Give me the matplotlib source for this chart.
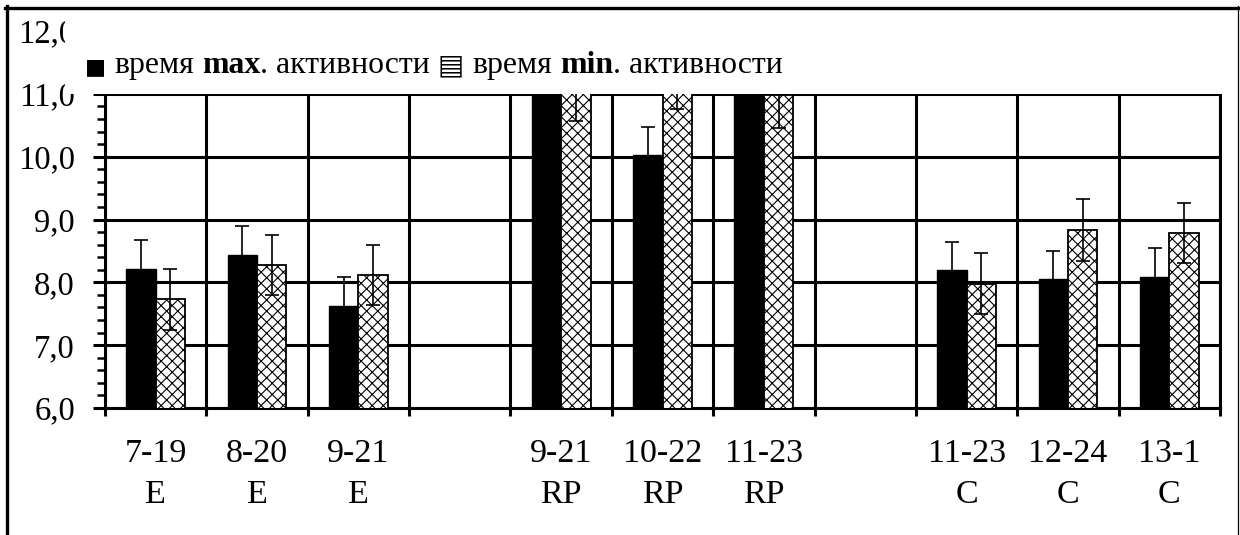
import numpy as np
import matplotlib
matplotlib.use("Agg")
import matplotlib.pyplot as plt
from matplotlib.ticker import FixedLocator, MultipleLocator, FuncFormatter, NullFormatter
from matplotlib.patches import Rectangle
from matplotlib.lines import Line2D

# Данные
labels = ["7-19\nE", "8-20\nE", "9-21\nE", "",
          "9-21\nRP", "10-22\nRP", "11-23\nRP", "",
          "11-23\nC", "12-24\nC", "13-1\nC"]
max_vals = [8.22, 8.44, 7.62, np.nan, 11.30, 10.03, 11.40, np.nan, 8.19, 8.05, 8.08]
max_err = [0.45, 0.46, 0.46, np.nan, 0.45, 0.45, 0.45, np.nan, 0.45, 0.45, 0.46]
min_vals = [7.73, 8.28, 8.12, np.nan, 11.05, 11.24, 10.98, np.nan, 7.98, 8.83, 8.78]
min_err = [0.49, 0.48, 0.48, np.nan, 0.48, 0.48, 0.52, np.nan, 0.48, 0.49, 0.48]

plt.rcParams["font.family"] = ["Liberation Serif", "DejaVu Serif"]
plt.rcParams["hatch.linewidth"] = 0.8

W, H = 1240, 535
fig = plt.figure(figsize=(W / 100, H / 100), dpi=100)
ax = fig.add_axes([105 / W, 1 - 408 / H, (1220 - 105) / W, (408 - 31) / H])

x = np.arange(len(labels)) + 0.5
bw = 0.29

ax.bar(x - bw / 2, max_vals, bw, color="black", edgecolor="black", linewidth=1.0, zorder=3)
ax.bar(x + bw / 2, min_vals, bw, color="white", edgecolor="black", linewidth=1.3,
       hatch="xxx", zorder=3)
ax.errorbar(x - bw / 2, max_vals, yerr=max_err, fmt="none", ecolor="black",
            elinewidth=1.2, capsize=5, capthick=1.2, zorder=4)
ax.errorbar(x + bw / 2, min_vals, yerr=min_err, fmt="none", ecolor="black",
            elinewidth=1.2, capsize=5, capthick=1.2, zorder=4)

ax.set_xlim(0, len(labels))
ax.set_ylim(6, 12)

# оси и сетка
ax.xaxis.set_major_locator(FixedLocator(np.arange(len(labels) + 1)))
ax.xaxis.set_major_formatter(NullFormatter())
ax.xaxis.set_minor_locator(FixedLocator(x))
ax.xaxis.set_minor_formatter(FuncFormatter(lambda v, p: labels[int(v)]))
ax.yaxis.set_major_locator(MultipleLocator(1))
ax.yaxis.set_minor_locator(MultipleLocator(0.2))
ax.yaxis.set_major_formatter(FuncFormatter(lambda v, p: f"{v:.1f}".replace(".", ",")))

ax.tick_params(axis="x", which="major", direction="out", length=6, width=2.2)
ax.tick_params(axis="x", which="minor", length=0, pad=22, labelsize=24.5)
ax.tick_params(axis="y", which="major", direction="out", length=9, width=2.2,
               pad=12.6, labelsize=23.5)
ax.tick_params(axis="y", which="minor", direction="out", length=6, width=1.8)
for t in ax.xaxis.get_minorticklabels():
    t.set_linespacing(1.45)

ax.grid(True, which="major", color="black", linewidth=2.2)
ax.set_axisbelow(True)
for s in ax.spines.values():
    s.set_linewidth(2.2)

# белая подложка легенды поверх верхней части графика
fig.patches.append(Rectangle((65 / W, 1 - 94 / H), (1226 - 65) / W, (94 - 14) / H,
                             transform=fig.transFigure, facecolor="white",
                             edgecolor="none", zorder=5))

# рамка рисунка
fig.add_artist(Line2D([5 / W, 1], [1 - 7.5 / H] * 2, color="black", linewidth=2.4, zorder=6))
fig.add_artist(Line2D([6.5 / W] * 2, [0, 1 - 6 / H], color="black", linewidth=2.4, zorder=6))
fig.add_artist(Line2D([1238 / W] * 2, [0, 1 - 6 / H], color="black", linewidth=0.9, zorder=6))

# легенда: текст по кусочкам (жирные max / min)
renderer = fig.canvas.get_renderer()
fs = 22.9
pieces = [
    ("■", "DejaVu Sans", "normal", 16),
    (" ", None, "normal", fs),
    ("время", "Liberation Serif", "normal", fs),
    (" ", None, "normal", fs),
    ("max", "Liberation Serif", "bold", fs),
    (". активности", "Liberation Serif", "normal", fs),
    (" ", None, "normal", fs),
    ("▤", "DejaVu Sans", "normal", 20),
    (" ", None, "normal", fs),
    ("время", "Liberation Serif", "normal", fs),
    (" ", None, "normal", fs),
    ("min", "Liberation Serif", "bold", fs),
    (". активности", "Liberation Serif", "normal", fs),
]
probe_a = fig.text(0, 0, "aa", fontsize=fs)
probe_b = fig.text(0, 0, "a a", fontsize=fs)
space_px = (probe_b.get_window_extent(renderer).width
            - probe_a.get_window_extent(renderer).width)
probe_a.remove()
probe_b.remove()

xpos = 85.0
base_y = 1 - 73 / H
for txt, fam, weight, size in pieces:
    if txt == " ":
        xpos += space_px
        continue
    t = fig.text(xpos / W, base_y, txt, family=fam, fontweight=weight, fontsize=size,
                 va="baseline", ha="left", zorder=7)
    xpos += t.get_window_extent(renderer).width

fig.savefig("out.png", dpi=100)
